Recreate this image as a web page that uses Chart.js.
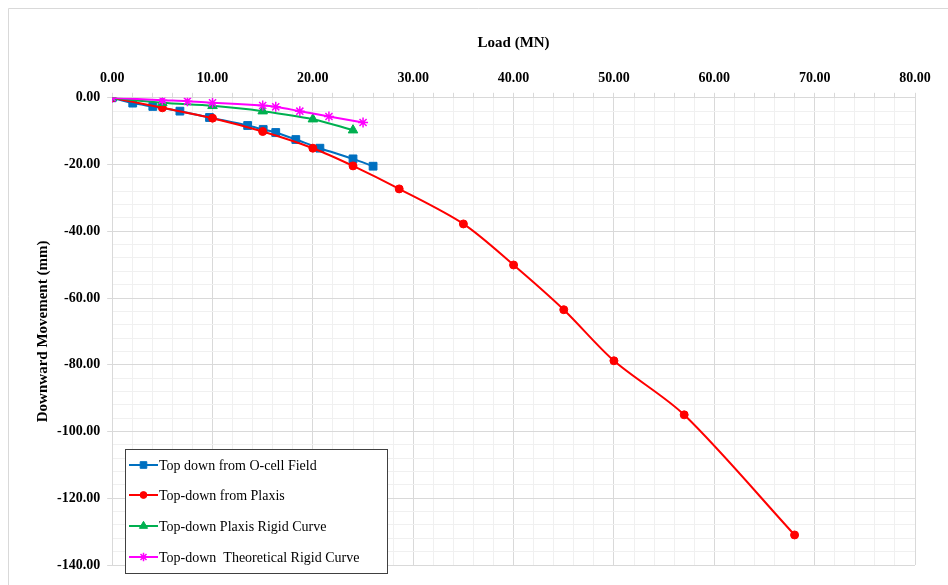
<!DOCTYPE html>
<html>
<head>
<meta charset="utf-8">
<script src="https://cdn.jsdelivr.net/npm/chart.js@4/dist/chart.umd.min.js"></script>
<style>
  html, body { margin: 0; padding: 0; background: #fff; }
  #wrap { width: 948px; height: 585px; position: relative; }
</style>
</head>
<body>
<div id="wrap"><canvas id="c" width="948" height="585"></canvas></div>
<script>
// ---- Data ----
const seriesNames = [
  "Top down from O-cell Field",
  "Top-down from Plaxis",
  "Top-down Plaxis Rigid Curve",
  "Top-down  Theoretical Rigid Curve"
];
const ocellLoad = [0, 2.05, 4.05, 6.75, 9.7, 13.5, 15.05, 16.3, 18.3, 20.7, 24.0, 26.0];
const ocellMove = [0, -1.6, -2.6, -4.0, -5.9, -8.3, -9.5, -10.4, -12.5, -15.1, -18.3, -20.5];
const plaxisLoad = [0, 5, 10, 15, 20, 24, 28.6, 35, 40, 45, 50, 57, 68];
const plaxisMove = [0, -3.0, -6.1, -10.1, -15.1, -20.4, -27.3, -37.8, -50.1, -63.5, -78.8, -95.0, -131.0];
const rigidLoad = [0, 5, 10, 15, 20, 24];
const rigidMove = [0, -1.5, -2.4, -4.0, -6.4, -9.7];
const theoLoad = [0, 5, 7.5, 10, 15, 16.3, 18.7, 21.6, 25.0];
const theoMove = [0, -0.7, -1.0, -1.5, -2.3, -2.7, -4.0, -5.6, -7.4];
const xTickLabels = ["0.00","10.00","20.00","30.00","40.00","50.00","60.00","70.00","80.00"];
const yTickLabels = ["0.00","-20.00","-40.00","-60.00","-80.00","-100.00","-120.00","-140.00"];

function pts(xs, ys) { return xs.map((x, i) => ({ x: x, y: ys[i] })); }

const colors = ['#0070C0', '#FF0000', '#00B050', '#FF00FF'];
const styles = ['rect', 'circle', 'triangle', 'star'];
const radii = [5.5, 4, 5.5, 5];

const datasets = [
  pts(ocellLoad, ocellMove),
  pts(plaxisLoad, plaxisMove),
  pts(rigidLoad, rigidMove),
  pts(theoLoad, theoMove)
].map((d, i) => ({
  label: seriesNames[i],
  data: d,
  showLine: true,
  borderColor: colors[i],
  backgroundColor: colors[i],
  pointBackgroundColor: colors[i],
  pointBorderColor: colors[i],
  pointStyle: styles[i],
  pointRadius: radii[i],
  pointBorderWidth: i === 3 ? 1.5 : 1,
  borderWidth: 2,
  tension: 0.3,
  order: 4 - i
}));

const SERIF = "'Liberation Serif', 'Times New Roman', serif";

const frame = {
  id: 'frame',
  beforeDraw(chart) {
    const ctx = chart.ctx;
    ctx.save();
    ctx.fillStyle = '#fff';
    ctx.fillRect(0, 0, chart.width, chart.height);
    ctx.strokeStyle = '#d9d9d9';
    ctx.lineWidth = 1;
    ctx.beginPath();
    ctx.moveTo(8.5, chart.height);
    ctx.lineTo(8.5, 8.5);
    ctx.lineTo(chart.width, 8.5);
    ctx.stroke();
    ctx.restore();
  }
};

const boxLegend = {
  id: 'boxLegend',
  afterDraw(chart) {
    const ctx = chart.ctx;
    ctx.save();
    const left = 125.5, top = 449.5, w = 262, h = 124;
    ctx.fillStyle = '#fff';
    ctx.fillRect(left, top, w, h);
    ctx.strokeStyle = '#404040';
    ctx.lineWidth = 1;
    ctx.strokeRect(left, top, w, h);
    ctx.font = '14px ' + SERIF;
    ctx.textBaseline = 'middle';
    ctx.textAlign = 'left';
    const rowsY = [465, 495, 526, 557];
    chart.data.datasets.forEach((ds, i) => {
      const y = rowsY[i];
      ctx.strokeStyle = ds.borderColor;
      ctx.lineWidth = 2;
      ctx.beginPath();
      ctx.moveTo(129, y);
      ctx.lineTo(158, y);
      ctx.stroke();
      ctx.fillStyle = ds.borderColor;
      ctx.strokeStyle = ds.borderColor;
      ctx.lineWidth = ds.pointBorderWidth;
      Chart.helpers.drawPoint(ctx, {
        pointStyle: ds.pointStyle,
        radius: ds.pointRadius * 0.85,
        borderWidth: ds.pointBorderWidth,
        rotation: 0
      }, 143.5, y);
      ctx.fillStyle = '#000';
      ctx.fillText(ds.label, 159, y + 1);
    });
    ctx.restore();
  }
};

new Chart(document.getElementById('c'), {
  type: 'scatter',
  data: { datasets: datasets },
  options: {
    responsive: false,
    animation: false,
    layout: { padding: { left: 34, right: 33, top: 34, bottom: 20 } },
    plugins: {
      legend: { display: false },
      tooltip: { enabled: false }
    },
    scales: {
      x: {
        type: 'linear',
        position: 'top',
        min: 0,
        max: 80,
        title: {
          display: true,
          text: 'Load (MN)',
          color: '#000',
          font: { family: SERIF, size: 15, weight: 'bold' },
          padding: { top: 0, bottom: 12 }
        },
        ticks: {
          stepSize: 2,
          autoSkip: false,
          maxRotation: 0,
          padding: 6,
          color: '#000',
          font: { family: SERIF, size: 14, weight: 'bold' },
          callback: (v) => (Math.round(v) % 10 === 0 ? xTickLabels[Math.round(v) / 10] : '')
        },
        grid: {
          color: (c) => (c.tick && Math.round(c.tick.value) % 10 === 0 ? '#d9d9d9' : '#f0f0f0'),
          tickColor: '#d9d9d9',
          tickLength: 5,
          lineWidth: 1
        },
        border: { color: '#d9d9d9' }
      },
      y: {
        type: 'linear',
        min: -140,
        max: 0,
        title: {
          display: true,
          text: 'Downward Movement (mm)',
          color: '#000',
          font: { family: SERIF, size: 15, weight: 'bold' },
          padding: { top: 0, bottom: -2 }
        },
        ticks: {
          stepSize: 4,
          autoSkip: false,
          padding: 7,
          color: '#000',
          font: { family: SERIF, size: 14, weight: 'bold' },
          callback: (v) => (Math.round(v) % 20 === 0 ? yTickLabels[-Math.round(v) / 20] : '')
        },
        grid: {
          color: (c) => (c.tick && Math.round(c.tick.value) % 20 === 0 ? '#d9d9d9' : '#f0f0f0'),
          tickColor: (c) => (c.tick && Math.round(c.tick.value) % 20 === 0 ? '#d9d9d9' : 'rgba(0,0,0,0)'),
          tickLength: 5,
          lineWidth: 1
        },
        border: { color: '#d9d9d9' }
      }
    }
  },
  plugins: [frame, boxLegend]
});
</script>
</body>
</html>
